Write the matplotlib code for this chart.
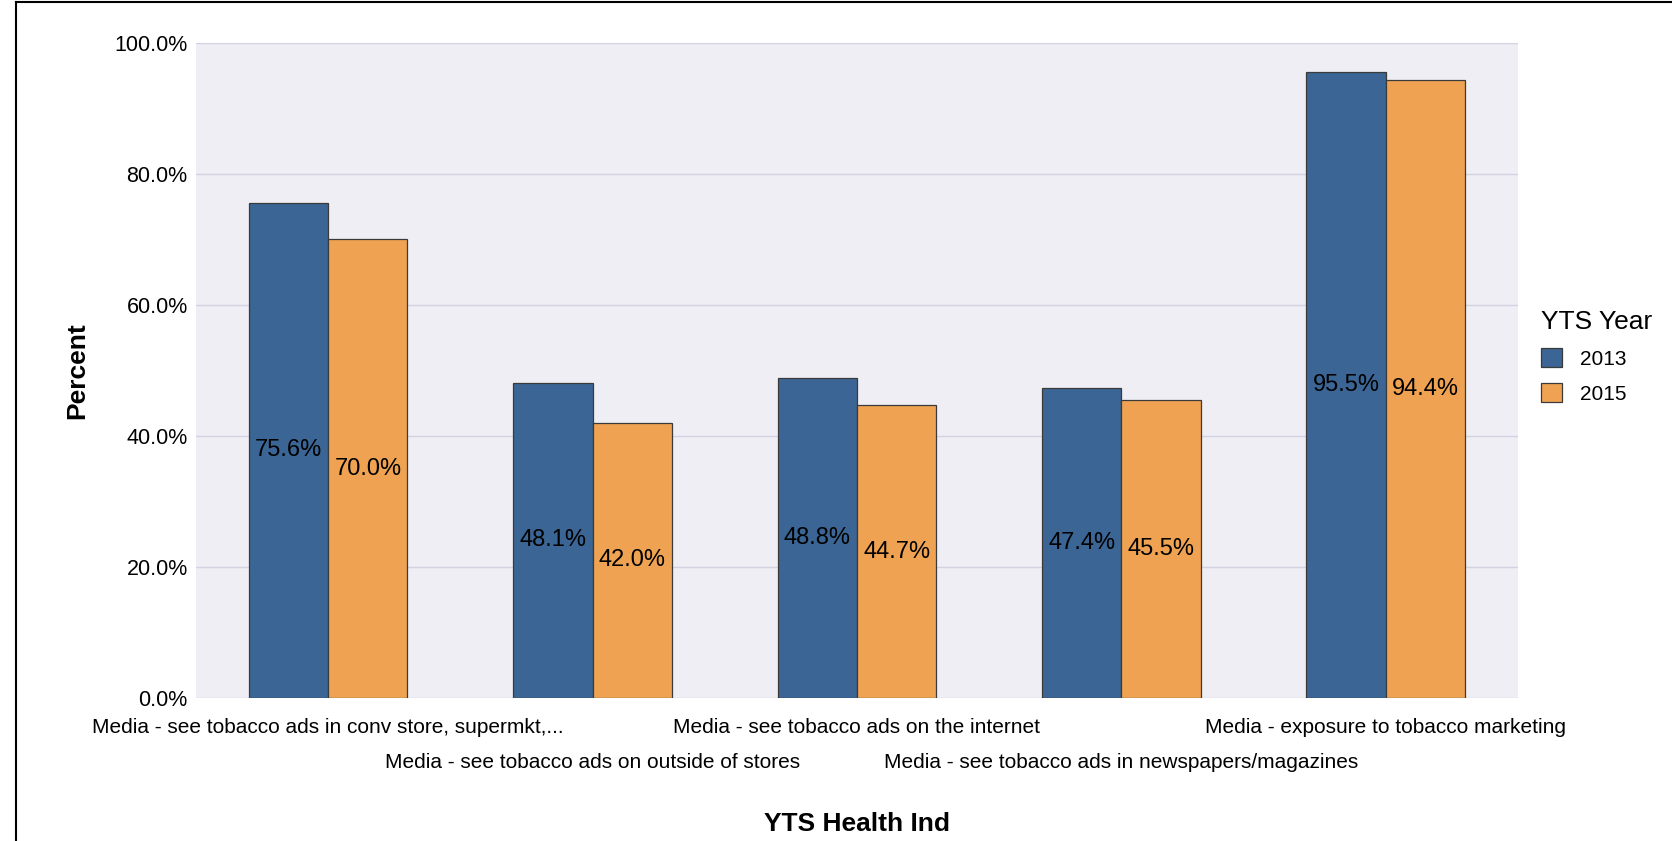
import numpy as np
import matplotlib
matplotlib.use("Agg")
import matplotlib.pyplot as plt
from matplotlib.lines import Line2D
from matplotlib.patches import Patch

plt.rcParams['font.family'] = ['Liberation Sans', 'DejaVu Sans']

# --- Data ---
categories = [
    "Media - see tobacco ads in conv store, supermkt,...",
    "Media - see tobacco ads on outside of stores",
    "Media - see tobacco ads on the internet",
    "Media - see tobacco ads in newspapers/magazines",
    "Media - exposure to tobacco marketing",
]
years = ["2013", "2015"]
pct_2013 = [75.6, 48.1, 48.8, 47.4, 95.5]
pct_2015 = [70.0, 42.0, 44.7, 45.5, 94.4]

colors = ["#3A6595", "#EFA352"]
bar_w = 0.3

fig = plt.figure(figsize=(16.72, 8.41), dpi=100)
ax = fig.add_axes([0.1172, 0.170, 0.9079 - 0.1172, 0.9489 - 0.170])
ax.set_facecolor("#EFEEF4")

x = np.arange(len(categories))
for i, (vals, col) in enumerate(zip([pct_2013, pct_2015], colors)):
    xs = x + (i - 0.5) * bar_w
    ax.bar(xs, vals, width=bar_w, color=col, edgecolor="#3a3a3a", linewidth=0.9, zorder=3)
    for xi, v in zip(xs, vals):
        ax.text(xi, v / 2, f"{v:.1f}%", ha="center", va="center", fontsize=17, color="black", zorder=4)

ax.set_xlim(-0.5, len(categories) - 0.5)
ax.set_ylim(0, 100)
ax.set_yticks(np.arange(0, 101, 20))
ax.set_yticklabels([f"{t:.1f}%" for t in range(0, 101, 20)], fontsize=15.5)
ax.grid(axis="y", color="#D2D2E2", linewidth=1, zorder=0)
ax.tick_params(axis="both", length=0)
ax.tick_params(axis="y", pad=6)
for s in ax.spines.values():
    s.set_visible(False)

ax.set_xticks(x)
ax.set_xticklabels(categories, fontsize=15)
for i, tick in enumerate(ax.xaxis.get_major_ticks()):
    tick.set_pad(14.5 if i % 2 == 0 else 39.5)

ax.set_ylabel("Percent", fontsize=19, fontweight="bold", labelpad=18)
fig.text(0.5 * (0.1172 + 0.9079), 1 - 824 / 841, "YTS Health Ind", ha="center", va="center",
         fontsize=19, fontweight="bold")

handles = [Patch(facecolor=c, edgecolor="#3a3a3a", linewidth=0.9) for c in colors]
leg = fig.legend(handles, years, loc="upper left", bbox_to_anchor=(1522 / 1672, 1 - 291 / 841),
                 title="YTS Year", frameon=False, fontsize=15, title_fontsize=19,
                 handlelength=1.0, handleheight=1.0, handletextpad=0.9, labelspacing=0.7)
leg._legend_box.align = "left"

# outer frame (left and top only)
fig.add_artist(Line2D([16 / 1672, 16 / 1672], [0, 1 - 2 / 841], transform=fig.transFigure, color="black", linewidth=1.5))
fig.add_artist(Line2D([16 / 1672, 1], [1 - 2 / 841, 1 - 2 / 841], transform=fig.transFigure, color="black", linewidth=1.5))

fig.savefig("out.png", dpi=100)
